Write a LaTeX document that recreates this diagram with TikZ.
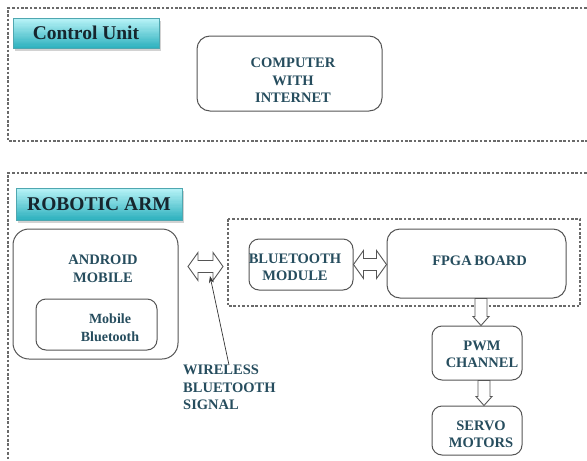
\documentclass[tikz,border=0pt]{standalone}
\usepackage{fontspec}
\setmainfont{Liberation Serif}
\usetikzlibrary{calc,shadows,arrows.meta}
\definecolor{txt}{HTML}{264D5E}
\definecolor{ttl}{HTML}{16262E}
\definecolor{edge}{HTML}{555555}
\definecolor{dash}{HTML}{6A6A6A}
\definecolor{tllight}{HTML}{B8F3F7}
\definecolor{tldark}{HTML}{30B2BF}
\definecolor{tledge}{HTML}{4FA7B0}

% hollow two-headed block arrow, horizontal, from #1 to #2
\newcommand\hblock[2]{%
  \draw[blk] let \p1=(#1), \p2=(#2) in
    (\x1,\y1) -- (\x1+10pt,\y1+14pt) -- (\x1+10pt,\y1+6pt) -- (\x2-10pt,\y1+6pt)
    -- (\x2-10pt,\y1+14pt) -- (\x2,\y1) -- (\x2-10pt,\y1-14pt) -- (\x2-10pt,\y1-6pt)
    -- (\x1+10pt,\y1-6pt) -- (\x1+10pt,\y1-14pt) -- cycle;}
% hollow block arrow pointing down, from #1 to #2
\newcommand\vblock[2]{%
  \draw[blk] let \p1=(#1), \p2=(#2) in
    (\x1-6pt,\y1) -- (\x1-6pt,\y2+9pt) -- (\x1-8pt,\y2+9pt) -- (\x1,\y2)
    -- (\x1+8pt,\y2+9pt) -- (\x1+6pt,\y2+9pt) -- (\x1+6pt,\y1) -- cycle;}

\tikzset{
  zone/.style={draw=dash, line width=1.1pt, dash pattern=on 2.6pt off 1.8pt},
  box/.style={draw=edge, line width=1pt, rounded corners=#1, fill=white, inner sep=0pt},
  box/.default=11pt,
  lbl/.style={text=txt, font=\bfseries\fontsize{14.5}{17.5}\selectfont, align=center, inner sep=0pt},
  % light at the top, darker teal towards the bottom, built from thin bands
  title/.style={draw=tledge, line width=0.6pt, fill=tldark,
    path picture={
      \foreach \i in {0,...,23}{
        \pgfmathsetmacro\pc{100-\i*100/23}
        \fill[tllight!\pc!tldark]
          ($(path picture bounding box.north west)!{\i/24}!(path picture bounding box.south west)$)
          rectangle
          ($(path picture bounding box.north east)!{(\i+1.3)/24}!(path picture bounding box.south east)$);
      }},
    drop shadow={shadow xshift=2pt, shadow yshift=-2.5pt, opacity=0.35},
    text=ttl, font=\bfseries\fontsize{19.5}{22}\selectfont, inner sep=0pt},
  blk/.style={draw=edge, line width=0.9pt, fill=white, line join=miter},
  ptr/.style={draw=black!80, line width=0.7pt, -{Stealth[length=7pt,width=5pt]}},
}

\begin{document}
\begin{tikzpicture}[x=1pt,y=-1pt]
\useasboundingbox (0,0) rectangle (587,461);
\clip (0,0) rectangle (587,461);
\fill[white] (0,0) rectangle (587,461);

% control unit zone
\draw[zone] (600,8) -- (8,8) -- (8,141) -- (600,141);
\node[title, minimum width=146pt, minimum height=30pt] (ctrl) at (86,33) {Control Unit};
\node[box=13pt, minimum width=185pt, minimum height=75pt] (comp) at (289.5,73.5) {};
\node[lbl] (comptxt) at (293,80.5) {COMPUTER\\WITH\\INTERNET};

% robotic arm zone
\draw[zone] (600,173) -- (8,173) -- (8,470);
\node[title, minimum width=166pt, minimum height=32pt] (robo) at (99,204) {ROBOTIC ARM};

% android phone
\node[box=16pt, minimum width=165pt, minimum height=130pt] (android) at (95.5,294) {};
\node[lbl] (andtxt) at (103,269) {ANDROID\\MOBILE};
\node[box=10pt, minimum width=121pt, minimum height=51pt] (mobbt) at (96.5,324.5) {};
\node[lbl, font=\bfseries\fontsize{14}{17.5}\selectfont] (mobtxt) at (110,327.5) {Mobile\\Bluetooth};

% on-board side
\draw[zone] (228,219) rectangle (580,306);
\node[box=10pt, minimum width=104pt, minimum height=51pt] (btmod) at (301,264.5) {};
\node[lbl] (bttxt) at (295,267.5) {BLUETOOTH\\MODULE};
\node[box=13pt, minimum width=179pt, minimum height=69pt] (fpga) at (476.5,263.5) {};
\node[lbl] (fpgatxt) at (479.5,261) {FPGA\hspace{-1pt} BOARD};
\node[box=10pt, minimum width=90pt, minimum height=54pt] (pwm) at (477,353) {};
\node[lbl] (pwmtxt) at (482,354.5) {PWM\\CHANNEL};
\node[box=10pt, minimum width=90pt, minimum height=49pt] (servo) at (477,430.5) {};
\node[lbl] (servotxt) at (481,434.5) {SERVO\\MOTORS};

% wireless link
\coordinate (wl) at (188,266.5);
\coordinate (wr) at (223,266.5);
\hblock{wl}{wr}
\hblock{btmod.east}{btmod.east -| fpga.west}
\vblock{$(fpga.south)+(4.5,0)$}{pwm.north}
\vblock{$(pwm.south)+(7,0)$}{servo.north}

\node[lbl, align=left, anchor=west] (wtxt) at (183,387.5) {WIRELESS\\BLUETOOTH\\SIGNAL};
\coordinate (wfoot) at (229,365);
\coordinate (wtip) at (210,276);
\draw[ptr] (wfoot) -- (wtip);
\end{tikzpicture}
\end{document}
